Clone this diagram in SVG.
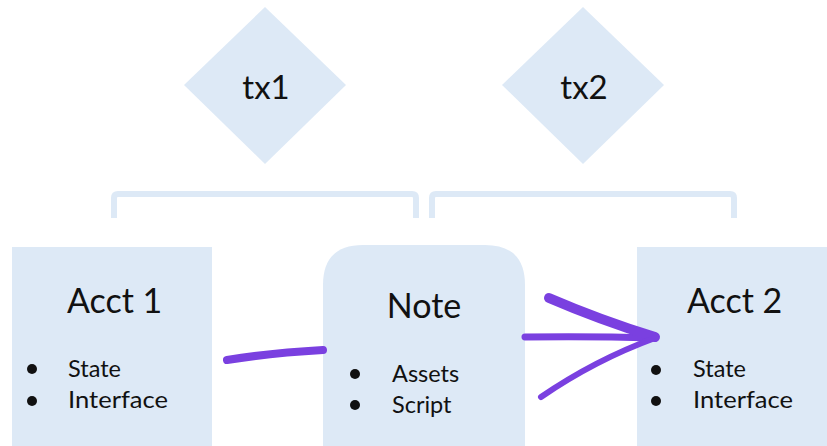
<svg xmlns="http://www.w3.org/2000/svg" width="827" height="446" viewBox="0 0 827 446">
<style>
.fill{fill:#dde9f6}
.title{font-family:Lato,"Open Sans",sans-serif;font-size:34px;fill:#111}
.tx{font-family:Lato,"Open Sans",sans-serif;font-size:33px;fill:#111;text-anchor:middle}
.item{font-family:Lato,"Open Sans",sans-serif;font-size:23.5px;fill:#111}
.bracket{fill:none;stroke:#dde9f6;stroke-width:6}
.pen{fill:none;stroke:#7a40e0;stroke-linecap:round;stroke-linejoin:round}
</style>
<rect width="827" height="446" fill="#ffffff"/>
<g id="tx1">
<polygon class="fill" points="265,7 346,85 265,164 184,85"/>
<text class="tx" x="266" y="99">tx1</text>
</g>
<g id="tx2">
<polygon class="fill" points="583,7 664,85 583,164 502,85"/>
<text class="tx" x="584" y="99">tx2</text>
</g>
<g id="brackets">
<path class="bracket" d="M114,218 V198 Q114,194 118,194 H412 Q416,194 416,198 V218"/>
<path class="bracket" d="M432,218 V198 Q432,194 436,194 H730 Q734,194 734,198 V218"/>
</g>
<g id="acct1">
<rect class="fill" x="12" y="247" width="200" height="210"/>
<text class="title" x="67" y="313">Acct 1</text>
<circle cx="32" cy="369" r="5" fill="#111"/>
<circle cx="32" cy="401" r="5" fill="#111"/>
<text class="item" x="68" y="377">State</text>
<text class="item" x="68" y="408" textLength="100" lengthAdjust="spacingAndGlyphs">Interface</text>
</g>
<g id="note">
<path class="fill" d="M323,457 V285 Q323,245 363,245 H485 Q525,245 525,285 V457 Z"/>
<text class="title" x="424" y="318" text-anchor="middle">Note</text>
<circle cx="355" cy="374" r="5" fill="#111"/>
<circle cx="355" cy="405" r="5" fill="#111"/>
<text class="item" x="392" y="382">Assets</text>
<text class="item" x="392" y="413">Script</text>
</g>
<g id="acct2">
<rect class="fill" x="637" y="247" width="200" height="210"/>
<text class="title" x="687" y="313">Acct 2</text>
<circle cx="656" cy="370" r="5" fill="#111"/>
<circle cx="656" cy="401" r="5" fill="#111"/>
<text class="item" x="693" y="377">State</text>
<text class="item" x="693" y="408" textLength="100" lengthAdjust="spacingAndGlyphs">Interface</text>
</g>
<g id="connectors">
<path class="pen" stroke-width="8" d="M227,360 Q270,353 323,350"/>
<path class="pen" stroke-width="7" d="M525,337 Q590,336 655,338"/>
<path class="pen" stroke-width="10" d="M549,298 Q600,320 655,337"/>
<path class="pen" stroke-width="6" d="M541,397 Q595,360 655,338"/>
</g>
</svg>
